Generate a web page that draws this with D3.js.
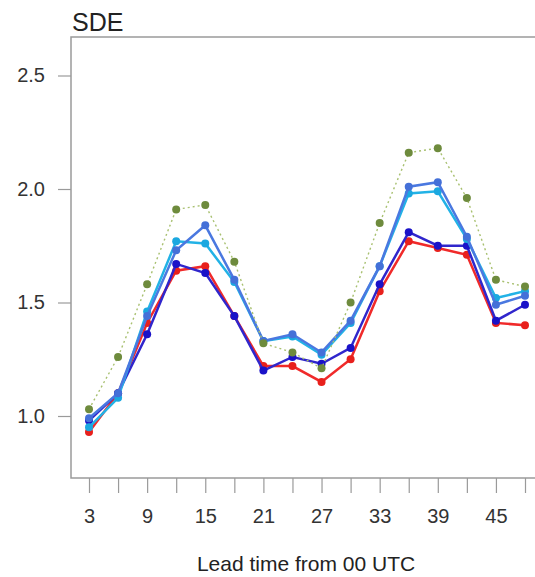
<!DOCTYPE html>
<html>
<head>
<meta charset="utf-8">
<script src="https://cdn.jsdelivr.net/npm/d3@7"></script>
<style>
  body { margin: 0; background: #fff; }
  text { font-family: "Liberation Sans", Arial, sans-serif; fill: #333; }
</style>
</head>
<body>
<div id="chart"></div>
<script>
// Lead times (hours) and tick labels
const leadTimes = [3, 6, 9, 12, 15, 18, 21, 24, 27, 30, 33, 36, 39, 42, 45, 48];
const xTickLabels = [3, 9, 15, 21, 27, 33, 39, 45];
const yTickLabels = [1.0, 1.5, 2.0, 2.5];

// SDE values per series
const redValues    = [0.93, 1.10, 1.41, 1.64, 1.66, 1.44, 1.22, 1.22, 1.15, 1.25, 1.55, 1.77, 1.74, 1.71, 1.41, 1.40];
const navyValues   = [0.98, 1.10, 1.36, 1.67, 1.63, 1.44, 1.20, 1.26, 1.23, 1.30, 1.58, 1.81, 1.75, 1.75, 1.42, 1.49];
const cyanValues   = [0.95, 1.08, 1.46, 1.77, 1.76, 1.59, 1.33, 1.35, 1.27, 1.41, 1.66, 1.98, 1.99, 1.78, 1.52, 1.55];
const royalValues  = [0.99, 1.10, 1.44, 1.73, 1.84, 1.60, 1.33, 1.36, 1.28, 1.42, 1.66, 2.01, 2.03, 1.79, 1.49, 1.53];
const greenValues  = [1.03, 1.26, 1.58, 1.91, 1.93, 1.68, 1.32, 1.28, 1.21, 1.50, 1.85, 2.16, 2.18, 1.96, 1.60, 1.57];

const series = [
  { values: redValues,   line: "#f02a2a", point: "#e8201c", dash: null },
  { values: navyValues,  line: "#3026cc", point: "#1a12c8", dash: null },
  { values: cyanValues,  line: "#22b2e6", point: "#1aa8e0", dash: null },
  { values: royalValues, line: "#4a78e0", point: "#4470d8", dash: null },
  { values: greenValues, line: "#a8c070", point: "#6e8b3d", dash: "2,3" }
];

const W = 535, H = 577;
const box = { left: 71, top: 37, right: 548, bottom: 478 };

const x = d3.scaleLinear().domain([3, 48]).range([89, 525]);
const y = d3.scaleLinear().domain([1, 2.5]).range([416, 75.5]);

const svg = d3.select("#chart").append("svg")
    .attr("width", W)
    .attr("height", H);

// Title
svg.append("text")
    .attr("x", 72)
    .attr("y", 31)
    .style("font-size", "25px")
    .style("fill", "#222")
    .text("SDE");

// Plot box
svg.append("rect")
    .attr("x", box.left)
    .attr("y", box.top)
    .attr("width", box.right - box.left)
    .attr("height", box.bottom - box.top)
    .attr("fill", "none")
    .attr("stroke", "#9a9a9a")
    .attr("stroke-width", 1.5);

// Y axis
const yAxis = d3.axisLeft(y)
    .tickValues(yTickLabels)
    .tickFormat(d3.format(".1f"))
    .tickSize(13)
    .tickPadding(13);

svg.append("g")
    .attr("class", "y axis")
    .attr("transform", `translate(${box.left},0)`)
    .call(yAxis)
    .call(g => g.select(".domain").remove())
    .call(g => g.selectAll("line").attr("stroke", "#9a9a9a").attr("stroke-width", 1.2))
    .call(g => g.selectAll("text").style("font-size", "20px").style("font-family", "Liberation Sans, Arial, sans-serif").attr("fill", "#333"));

// X axis
const xAxis = d3.axisBottom(x)
    .tickValues(leadTimes)
    .tickFormat(d => xTickLabels.includes(d) ? d : "")
    .tickSize(15)
    .tickPadding(16);

svg.append("g")
    .attr("class", "x axis")
    .attr("transform", `translate(0,${box.bottom})`)
    .call(xAxis)
    .call(g => g.select(".domain").remove())
    .call(g => g.selectAll("line").attr("stroke", "#9a9a9a").attr("stroke-width", 1.2))
    .call(g => g.selectAll("text").style("font-size", "20px").style("font-family", "Liberation Sans, Arial, sans-serif").attr("fill", "#333"));

// X axis label
svg.append("text")
    .attr("x", 306)
    .attr("y", 571)
    .style("text-anchor", "middle")
    .style("font-size", "21px")
    .style("fill", "#222")
    .text("Lead time from 00 UTC");

// Lines and points
const line = d3.line()
    .x((d, i) => x(leadTimes[i]))
    .y(d => y(d));

series.forEach(s => {
  svg.append("path")
      .datum(s.values)
      .attr("fill", "none")
      .attr("stroke", s.line)
      .attr("stroke-width", s.dash ? 1.4 : 2.5)
      .attr("stroke-dasharray", s.dash)
      .attr("d", line);

  svg.selectAll(null)
      .data(s.values)
      .enter().append("circle")
      .attr("cx", (d, i) => x(leadTimes[i]))
      .attr("cy", d => y(d))
      .attr("r", 4)
      .attr("fill", s.point);
});
</script>
</body>
</html>
